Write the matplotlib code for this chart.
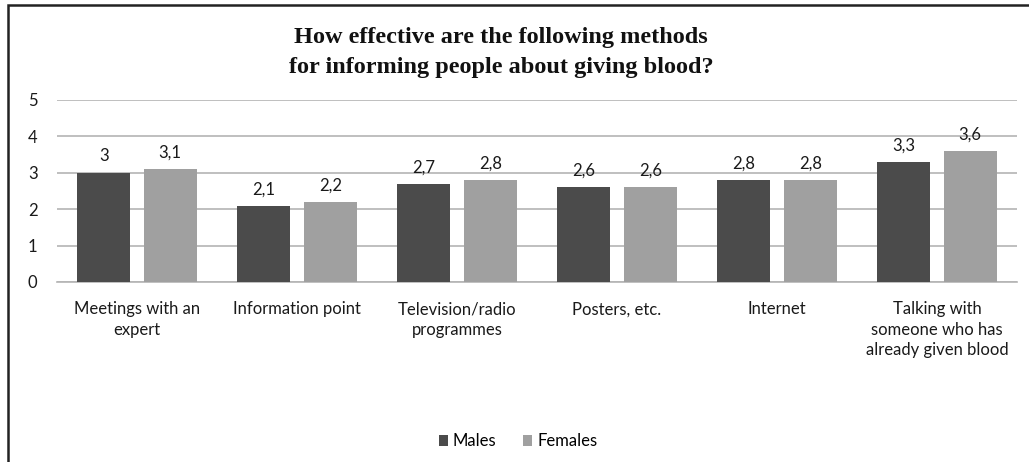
import matplotlib
matplotlib.use("Agg")
import matplotlib.pyplot as plt
from matplotlib.patches import Rectangle
import numpy as np

categories = [
    "Meetings with an\nexpert",
    "Information point",
    "Television/radio\nprogrammes",
    "Posters, etc.",
    "Internet",
    "Talking with\nsomeone who has\nalready given blood",
]
males = [3.0, 2.1, 2.7, 2.6, 2.8, 3.3]
females = [3.1, 2.2, 2.8, 2.6, 2.8, 3.6]
series_names = ["Males", "Females"]
y_ticks = [0, 1, 2, 3, 4, 5]

DARK = "#4b4b4b"
LIGHT = "#a0a0a0"
GRID = "#b4b4b4"
TEXT = "#1a1a1a"
label_font = ["Lato", "DejaVu Sans"]
FS = 12

W, H = 1029, 462
fig = plt.figure(figsize=(W / 100, H / 100), dpi=100)
fig.patch.set_facecolor("white")

# outer frame of the chart area
fig.add_artist(Rectangle((8 / W, -0.05), 1.2, 1 - 5 / H + 0.05,
                         transform=fig.transFigure, fill=False,
                         edgecolor="#222222", linewidth=1.8))

ax = fig.add_axes([57 / W, 1 - 282 / H, (1017 - 57) / W, (282 - 100) / H])
x = np.arange(len(categories))
off, bw = 0.208, 0.333
b1 = ax.bar(x - off, males, bw, color=DARK, zorder=3, label=series_names[0])
b2 = ax.bar(x + off, females, bw, color=LIGHT, zorder=3, label=series_names[1])

for bars, vals in ((b1, males), (b2, females)):
    for r, v in zip(bars, vals):
        ax.annotate(f"{v:g}".replace(".", ","),
                    (r.get_x() + r.get_width() / 2, v),
                    xytext=(0, 6), textcoords="offset points",
                    ha="center", va="bottom", fontsize=FS,
                    family=label_font, color=TEXT)

ax.set_xlim(-0.5, len(categories) - 0.5)
ax.set_ylim(0, 5)
ax.set_yticks(y_ticks)
ax.yaxis.grid(True, color=GRID, linewidth=1.2, zorder=0)
ax.set_axisbelow(True)
for s in ("left", "right", "top"):
    ax.spines[s].set_visible(False)
ax.spines["bottom"].set_color(GRID)
ax.spines["bottom"].set_linewidth(1.2)
ax.tick_params(axis="both", length=0, labelsize=FS, labelcolor=TEXT)
ax.tick_params(axis="y", pad=14)
ax.tick_params(axis="x", pad=14)
ax.set_xticks(x)
ax.set_xticklabels(categories, family=label_font, linespacing=1.32)
for t in ax.get_yticklabels():
    t.set_family(label_font)

fig.text(501 / W, 1 - 52.5 / H,
         "How effective are the following methods\nfor informing people about giving blood?",
         ha="center", va="center", fontsize=17.5, fontweight="bold",
         family="Liberation Serif", color="#111111", linespacing=1.55)

fig.legend(handles=[b1, b2], labels=series_names, loc="center",
           bbox_to_anchor=(518 / W, 1 - 441 / H), ncol=2, frameon=False,
           prop={"family": label_font, "size": FS}, handlelength=0.55,
           handleheight=0.65, handletextpad=0.3, columnspacing=1.6)

fig.savefig("out.png", dpi=100, facecolor="white")
